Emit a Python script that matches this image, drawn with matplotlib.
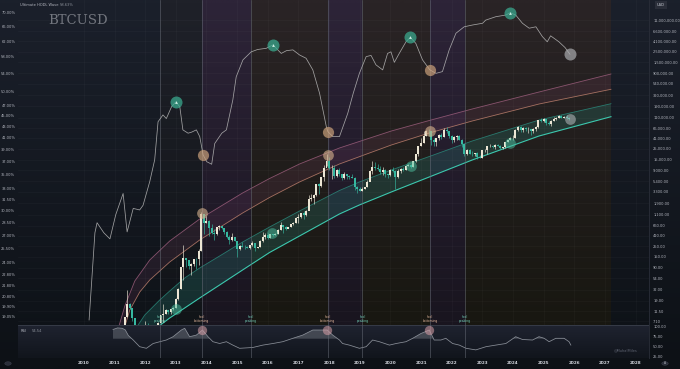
import matplotlib
matplotlib.use("Agg")
import matplotlib.pyplot as plt
import numpy as np
from matplotlib.colors import to_rgba
from matplotlib.ticker import NullLocator
import matplotlib.transforms as mtransforms

# ---------------- data ----------------
# monthly BTCUSD candles, Jan 2011 .. Nov 2025
CANDLE_START = 2011.0
closes = [
    0.52, 0.86, 0.78, 3.5, 8.74, 16.1, 13.35, 8.19, 5.14, 3.25, 2.97, 4.72,
    5.48, 4.86, 4.87, 4.95, 5.17, 6.67, 9.35, 10.15, 12.4, 11.2, 12.57, 13.51,
    20.4, 33.4, 93.0, 139.0, 128.8, 97.5, 106.2, 135.4, 133.0, 198.0, 1130, 755,
    830, 581, 458, 448, 629, 640, 580, 478, 389, 338, 378, 320,
    218, 254, 244, 236, 230, 263, 284, 230, 236, 314, 377, 430,
    368, 437, 416, 448, 531, 673, 624, 575, 609, 698, 742, 963,
    970, 1190, 1080, 1348, 2300, 2480, 2875, 4703, 4338, 6468, 10199, 13860,
    10220, 10330, 6930, 9240, 7490, 6390, 7730, 7030, 6630, 6370, 4020, 3740,
    3460, 3820, 4100, 5320, 8570, 10820, 10080, 9630, 8290, 9200, 7570, 7190,
    9350, 8600, 6440, 8660, 9460, 9140, 11350, 11680, 10780, 13800, 19700, 28990,
    33110, 45240, 58800, 57750, 37330, 35040, 41460, 47100, 43820, 61300, 57000, 46300,
    38480, 43190, 45540, 37710, 31800, 19780, 23300, 20050, 19430, 20490, 17170, 16550,
    23140, 23150, 28480, 29250, 27220, 30480, 29230, 25940, 26970, 34650, 37720, 42280,
    42580, 61130, 71330, 60640, 67490, 62680, 64620, 58970, 63330, 70220, 96410, 93430,
    102430, 84350, 82550, 94210, 104600, 107140, 115760, 108250, 114050, 109500, 102000,
]
highs = [
    0.6, 1.1, 0.95, 3.9, 8.9, 31.9, 16.5, 13.5, 8.5, 5.2, 3.5, 4.8,
    7.2, 6.5, 5.3, 5.3, 5.2, 6.9, 9.7, 16.0, 12.9, 12.4, 12.9, 13.7,
    21.0, 34.5, 95.0, 266, 140, 129, 110, 136, 144, 220, 1242, 1163,
    1020, 870, 710, 550, 630, 680, 660, 595, 500, 415, 458, 380,
    320, 265, 301, 261, 247, 268, 315, 286, 244, 334, 495, 469,
    462, 444, 440, 470, 550, 778, 695, 636, 617, 718, 765, 979,
    1150, 1210, 1290, 1350, 2760, 3000, 2950, 4760, 5000, 6470, 11400, 19700,
    17200, 11800, 11700, 9750, 9980, 7760, 8500, 7770, 7400, 7680, 6590, 4240,
    4100, 4190, 4120, 5620, 9100, 13900, 13200, 12330, 10950, 10370, 9500, 7750,
    9580, 10500, 9190, 9470, 10070, 10400, 11460, 12470, 12070, 14100, 19900, 29300,
    41900, 58400, 61800, 64900, 59500, 41300, 42400, 50500, 52900, 67000, 69000, 59100,
    47900, 45800, 48200, 47400, 40000, 31900, 24700, 25200, 22800, 21000, 21500, 18400,
    23960, 25250, 29200, 30950, 29800, 31400, 31800, 30100, 27500, 35200, 38400, 44700,
    48900, 64000, 73800, 72700, 71900, 72000, 70000, 65100, 66500, 73600, 99600, 108300,
    109300, 102500, 95000, 95800, 111900, 110600, 123200, 124500, 117900, 126200, 110700,
]
lows = [
    0.3, 0.5, 0.7, 0.75, 3.0, 8.7, 12.5, 7.1, 4.8, 2.0, 2.0, 2.8,
    4.6, 4.25, 4.73, 4.8, 4.9, 5.2, 6.5, 7.0, 9.8, 9.8, 10.2, 12.4,
    13.2, 19.9, 33.3, 50, 92, 84, 65, 97, 85, 102, 198, 450,
    740, 400, 440, 340, 420, 545, 567, 440, 360, 276, 325, 312,
    152, 211, 235, 218, 226, 219, 256, 200, 227, 237, 308, 349,
    355, 367, 405, 415, 445, 526, 470, 545, 592, 607, 690, 740,
    750, 940, 890, 1060, 1350, 2120, 1840, 2700, 2970, 4120, 5500, 10900,
    9040, 6000, 6430, 6630, 7050, 5750, 6070, 5880, 6100, 6200, 3550, 3150,
    3350, 3390, 3750, 4070, 5350, 7480, 9100, 9330, 7710, 7300, 6500, 6430,
    6870, 8500, 3800, 6200, 8100, 8900, 9000, 11000, 10000, 10400, 13200, 17600,
    28100, 32300, 45000, 47000, 30000, 28800, 29300, 37300, 39600, 43300, 53300, 42000,
    33000, 34300, 37200, 37700, 26700, 17600, 18800, 19600, 18200, 18200, 15500, 16300,
    16500, 21400, 19600, 26900, 25900, 24800, 28900, 25300, 24900, 26600, 34100, 37600,
    38500, 41900, 59100, 56600, 56500, 58400, 53500, 49000, 52600, 58900, 67500, 90500,
    89200, 78200, 76600, 74400, 93400, 98200, 105300, 107300, 107300, 103500, 98900,
]
first_open = 0.30

# Ultimate HODL Wave (%)
hodl_years = [
    2010.17, 2010.36, 2010.43, 2010.52, 2010.65, 2010.85, 2011.04, 2011.28, 2011.41,
    2011.61, 2011.82, 2011.93, 2012.15, 2012.31, 2012.42, 2012.58, 2012.69, 2012.86,
    2013.00, 2013.13, 2013.23, 2013.40, 2013.52, 2013.67, 2013.78, 2013.89, 2014.01,
    2014.17, 2014.27, 2014.50, 2014.65, 2014.86, 2014.97, 2015.19, 2015.46, 2015.67,
    2015.95, 2016.17, 2016.44, 2016.61, 2016.82, 2017.04, 2017.25, 2017.47, 2017.69,
    2017.91, 2017.96, 2018.12, 2018.34, 2018.61, 2018.79, 2018.99, 2019.21, 2019.37,
    2019.53, 2019.75, 2019.91, 2020.02, 2020.13, 2020.29, 2020.51, 2020.65, 2020.83,
    2021.05, 2021.29, 2021.49, 2021.70, 2021.92, 2022.14, 2022.41, 2022.68, 2023.01,
    2023.11, 2023.44, 2023.77, 2023.91, 2024.09, 2024.31, 2024.53, 2024.75, 2024.96,
    2025.12, 2025.23, 2025.50, 2025.70, 2025.86,
]
hodl_pct = [
    18.8, 27.3, 28.5, 28.0, 27.3, 26.6, 29.5, 32.3, 27.4,
    30.3, 30.1, 30.7, 34.0, 37.3, 43.9, 45.2, 44.5, 46.8,
    47.8, 46.8, 42.4, 41.8, 42.0, 42.4, 41.2, 38.1, 37.0,
    36.6, 40.0, 41.8, 42.4, 48.2, 53.2, 57.2, 59.2, 59.8,
    60.1, 61.0, 58.8, 59.5, 59.7, 58.4, 57.6, 54.8, 49.6,
    43.0, 42.1, 41.2, 41.2, 45.5, 49.6, 54.0, 58.0, 58.3,
    56.0, 54.8, 58.8, 59.2, 56.6, 58.8, 61.8, 63.0, 61.4,
    57.2, 54.8, 54.0, 54.4, 59.7, 64.1, 65.9, 66.4, 66.9,
    67.8, 68.8, 69.3, 70.0, 69.3, 66.9, 65.5, 65.9, 63.2,
    61.8, 63.4, 61.8, 60.3, 58.6,
]
hodl_peak_years = [2013.00, 2016.17, 2020.65, 2023.91]
hodl_peak_pct = [47.8, 61.0, 63.0, 70.0]
hodl_trough_years = [2013.89, 2017.96, 2021.29]
hodl_trough_pct = [38.1, 42.1, 54.8]
hodl_last_year = 2025.86
hodl_last_pct = 58.6

# price markers
price_top_years = [2013.84, 2017.96, 2021.29]
price_top_vals = [1199, 18700, 58200]
price_low_years = [2013.00, 2016.15, 2020.67, 2023.92]
price_low_vals = [12.5, 459, 11250, 33000]
price_last_year = 2025.86
price_last_val = 101000

# log regression bands
top_years = [2011.107, 2011.336, 2011.661, 2012.150, 2012.801, 2013.779, 2015.179, 2016.059,
             2017.036, 2018.339, 2020.033, 2021.270, 2022.671, 2024.853, 2027.199]
top_vals = [4.71, 14.68, 47.9, 129.6, 318.4, 902, 3094, 6145,
            12210, 26050, 58260, 95750, 165100, 369300, 866000]
salmon_years = [2011.303, 2011.498, 2011.824, 2012.150, 2012.801, 2013.779, 2015.179, 2016.059,
                2017.036, 2018.339, 2020.033, 2021.270, 2022.671, 2024.853, 2027.199]
salmon_vals = [4.71, 12.14, 28.5, 50.3, 117.9, 334, 1199, 2500,
               5209, 12210, 30020, 52990, 93500, 209100, 419600]
mid_years = [2011.661, 2011.987, 2012.476, 2012.801, 2013.290, 2013.779, 2014.430, 2015.179,
             2016.059, 2017.036, 2018.339, 2018.990, 2020.033, 2021.270, 2022.671, 2024.853, 2027.199]
mid_vals = [4.71, 9.58, 19.5, 29.85, 55.3, 88.7, 156.6, 303.7,
            618, 1318, 3483, 5209, 9190, 17400, 36290, 98030, 212100]
low_years = [2012.313, 2012.476, 2012.801, 2013.290, 2013.779, 2014.430, 2015.179, 2016.059,
             2017.036, 2018.339, 2018.990, 2020.033, 2021.270, 2022.671, 2024.853, 2027.199]
low_vals = [4.71, 5.83, 8.31, 13.35, 21.43, 39.66, 80.7, 184.8,
            403.6, 1144, 1752, 3245, 6600, 14750, 45980, 114600]

# cycle markers
cycle_years = [2012.48, 2013.84, 2015.44, 2017.95, 2019.09, 2021.30, 2022.44]
cycle_labels = ["hodl\npeaking", "hodl\nbottoming", "hodl\npeaking", "hodl\nbottoming",
                "hodl\npeaking", "hodl\nbottoming", "hodl\npeaking"]
shade_edges = [2012.48, 2013.84, 2015.44, 2017.95, 2019.09, 2021.30, 2022.44, 2027.2]
shade_kinds = ["dark", "purple", "brown", "purple", "brown", "purple", "brown"]

# RSI
rsi_years = [
    2010.95, 2011.10, 2011.25, 2011.35, 2011.45, 2011.61, 2011.82, 2012.04, 2012.26,
    2012.48, 2012.69, 2012.91, 2013.18, 2013.29, 2013.45, 2013.67, 2013.87, 2014.05,
    2014.21, 2014.43, 2014.65, 2014.86, 2015.08, 2015.51, 2015.84, 2016.17, 2016.49,
    2016.82, 2017.14, 2017.47, 2017.69, 2017.94, 2018.12, 2018.34, 2018.44, 2018.66,
    2018.99, 2019.21, 2019.42, 2019.64, 2019.97, 2020.19, 2020.51, 2020.73, 2021.00,
    2021.27, 2021.43, 2021.65, 2021.81, 2022.03, 2022.25, 2022.47, 2022.79, 2023.12,
    2023.44, 2023.77, 2024.09, 2024.31, 2024.64, 2024.85, 2025.02, 2025.18, 2025.40,
    2025.67, 2025.83, 2025.89,
]
rsi_vals = [
    93, 97, 96, 92, 78, 66.7, 50, 46, 58,
    62.5, 66.7, 75, 91.7, 96, 75, 79, 91.7, 75,
    62.5, 58, 62.5, 54, 46, 48, 54, 58, 62.5,
    71, 79, 91.7, 91.7, 91.7, 79, 66.7, 58, 54,
    46, 50, 66.7, 62.5, 54, 58, 62.5, 71, 83,
    91.7, 66.7, 66.7, 71, 58, 54, 46, 42, 50,
    54, 58, 75, 68, 66.7, 75, 71, 62.5, 71,
    71, 62.5, 54,
]
rsi_mark_years = [2013.87, 2017.94, 2021.27]
rsi_mark_vals = [91.7, 91.7, 91.7]

price_ticks = [11e6, 6.6e6, 4.1e6, 2.5e6, 1.5e6, 900e3, 540e3, 320e3, 190e3, 110e3,
               66e3, 41e3, 25e3, 15e3, 9000, 5400, 3300, 1900, 1100, 660, 410, 250,
               150, 90, 54, 32, 19, 11.5, 7.1]
hodl_ticks = [70, 66, 62, 58, 54, 50, 47, 45, 43, 41, 39, 37, 35, 33, 31.5, 30, 28.5,
              27, 25.5, 24, 22.8, 21.8, 20.8, 19.9, 19.05]
rsi_ticks = [25, 50, 75, 100]
year_ticks = list(range(2010, 2029))

# ---------------- layout ----------------
W, H = 680, 369
XMIN, XMAX = 2007.85, 2028.44


def rect(x0, y0, x1, y1):
    return [x0 / W, 1 - y1 / H, (x1 - x0) / W, (y1 - y0) / H]


def vgrad(top, bottom, n=64):
    a = np.array(to_rgba(top))
    b = np.array(to_rgba(bottom))
    t = np.linspace(0, 1, n)[:, None]
    return (a * (1 - t) + b * t)[:, None, :]


fig = plt.figure(figsize=(W / 100, H / 100), dpi=100)
fig.patch.set_facecolor("#131722")

bg = fig.add_axes([0, 0, 1, 1])
bg.set_axis_off()
bg.imshow(vgrad("#1b202b", "#0d1116"), extent=(0, 1, 0, 1), aspect="auto",
          interpolation="bilinear")
bg.set_xlim(0, 1)
bg.set_ylim(0, 1)

# cycle shading
sh = fig.add_axes(rect(18, 0, 649, 325))
sh.set_axis_off()
shade_colors = {
    "dark": ("#1f2129", "#111418"),
    "purple": ("#2d2438", "#19151f"),
    "brown": ("#2a2426", "#181711"),
}
for x0, x1, kind in zip(shade_edges[:-1], shade_edges[1:], shade_kinds):
    top, bot = shade_colors[kind]
    sh.imshow(vgrad(top, bot), extent=(x0, x1, 0, 1), aspect="auto",
              interpolation="bilinear")
sh.set_xlim(XMIN, XMAX)
sh.set_ylim(0, 1)

# price axis
ax = fig.add_axes(rect(18, 0, 649, 325))
ax.patch.set_visible(False)
ax.set_yscale("log")
ax.set_xlim(XMIN, XMAX)
ax.set_ylim(5.96, 2.88e7)
for s in ax.spines.values():
    s.set_visible(False)
ax.set_xticks(year_ticks)
ax.tick_params(axis="x", length=0, labelbottom=False)
ax.grid(True, color="#ffffff", alpha=0.035, lw=0.5)

# bands: filled ribbons then their edge lines
ax.fill(top_years + salmon_years[::-1], top_vals + salmon_vals[::-1],
        color="#a2507e", alpha=0.13, lw=0)
ax.fill(mid_years + low_years[::-1], mid_vals + low_vals[::-1],
        color="#2a9d8f", alpha=0.2, lw=0)
ax.plot(top_years, top_vals, color="#a0607f", lw=0.6, alpha=0.8)
ax.plot(salmon_years, salmon_vals, color="#c48470", lw=0.6, alpha=0.8)
ax.plot(mid_years, mid_vals, color="#2b8c7e", lw=0.6, alpha=0.8)
ax.plot(low_years, low_vals, color="#3cc8ae", lw=0.8)

# vertical cycle lines
btrans = mtransforms.blended_transform_factory(ax.transData, ax.transAxes)
for yr, lab in zip(cycle_years, cycle_labels):
    ax.axvline(yr, color="#6a6f7a", lw=0.5, alpha=0.7)
    col = "#e0b59a" if "bottoming" in lab else "#72d0b8"
    ax.text(yr, 0.018, lab, transform=btrans, ha="center", va="center", fontsize=2.2,
            color=col, linespacing=0.9, zorder=6)

# candles
n = len(closes)
tx = CANDLE_START + np.arange(n) / 12.0
opens = [first_open] + closes[:-1]
for t, o, h, l, c in zip(tx, opens, highs, lows, closes):
    up = c >= o
    col = "#ece6d4" if up else "#36b8a0"
    ax.vlines(t, l, h, color=col, lw=0.45, zorder=4)
    lo, hi = min(o, c), max(o, c)
    ax.bar(t, hi - lo, bottom=lo, width=0.065, color=col, lw=0, zorder=4)

ax.scatter(price_top_years, price_top_vals, s=60, color="#d9b48f", alpha=0.6, lw=0, zorder=5)
ax.scatter(price_low_years, price_low_vals, s=60, color="#4cc0a0", alpha=0.5, lw=0, zorder=5)
ax.scatter([price_last_year], [price_last_val], s=60, color="#b8bcc0", alpha=0.55, lw=0, zorder=5)

# HODL wave axis
axh = ax.twinx()
axh.patch.set_visible(False)
axh.set_yscale("log")
axh.set_ylim(18.4, 73.9)
axh.set_xlim(XMIN, XMAX)
for s in axh.spines.values():
    s.set_visible(False)
axh.yaxis.tick_left()
axh.set_yticks(hodl_ticks)
axh.set_yticklabels([f"{v:.2f}%" for v in hodl_ticks])
axh.yaxis.set_minor_locator(NullLocator())
axh.tick_params(axis="y", length=0, pad=2, labelsize=2.6, labelcolor="#b2b5be")
axh.plot(hodl_years, hodl_pct, color="#b9b9b9", lw=0.55, alpha=0.85)
axh.scatter(hodl_peak_years, hodl_peak_pct, s=75, color="#3aa88e", alpha=0.75, lw=0, zorder=5)
axh.scatter(hodl_peak_years, hodl_peak_pct, s=4, marker="^", color="#cfeee4", lw=0, zorder=6)
axh.scatter(hodl_trough_years, hodl_trough_pct, s=65, color="#c9a07a", alpha=0.7, lw=0, zorder=5)
axh.scatter([hodl_last_year], [hodl_last_pct], s=75, color="#a9abae", alpha=0.7, lw=0, zorder=5)

# price ticks go on the right (twinx moved them)
ax.yaxis.tick_right()
ax.set_yticks(price_ticks)
ax.set_yticklabels([f"{v:,.2f}" for v in price_ticks])
ax.yaxis.set_minor_locator(NullLocator())
ax.tick_params(axis="y", length=0, pad=3, labelsize=2.6, labelcolor="#b2b5be")

# RSI panel
rsi = fig.add_axes(rect(18, 325, 649, 358))
rsi.imshow(vgrad("#1f2330", "#11151c"), extent=(XMIN, XMAX, 21.75, 104.25),
           aspect="auto", interpolation="bilinear", zorder=0)
rsi.set_xlim(XMIN, XMAX)
rsi.set_ylim(21.75, 104.25)
for s in rsi.spines.values():
    s.set_visible(False)
rsi.axhline(104.2, color="#3a3f4b", lw=0.6)
rv = np.array(rsi_vals)
rsi.fill_between(rsi_years, 70, rv, where=rv > 70, interpolate=True, color="#8e949c",
                 alpha=0.35, lw=0)
rsi.plot(rsi_years, rsi_vals, color="#8a8f98", lw=0.55)
rsi.scatter(rsi_mark_years, rsi_mark_vals, s=45, color="#d9a0a8", alpha=0.55, lw=0, zorder=5)
for yr in cycle_years:
    rsi.axvline(yr, color="#6a6f7a", lw=0.5, alpha=0.7)
rsi.yaxis.tick_right()
rsi.set_yticks(rsi_ticks)
rsi.set_yticklabels([f"{v:.2f}" for v in rsi_ticks])
rsi.tick_params(axis="y", length=0, pad=3, labelsize=2.6, labelcolor="#b2b5be")
rsi.set_xticks(year_ticks)
rsi.set_xticklabels([str(y) for y in year_ticks])
rsi.tick_params(axis="x", length=0, pad=2.2, labelsize=3.0, labelcolor="#d1d4dc")
for lab in rsi.get_xticklabels():
    lab.set_fontweight("bold")
rsi.text(0.004, 0.82, "RSI", transform=rsi.transAxes, fontsize=2.6, color="#b2b5be", va="center")
rsi.text(0.022, 0.82, "54.54", transform=rsi.transAxes, fontsize=2.6, color="#8a8f98", va="center")

# texts
fig.text(20 / W, 1 - 4.5 / H, "Ultimate HODL Wave", fontsize=2.6, color="#b2b5be", va="center")
fig.text(60 / W, 1 - 4.5 / H, "58.63%", fontsize=2.6, color="#8a8f98", va="center")
fig.text(78 / W, 1 - 20 / H, "BTCUSD", fontsize=9.5, family="DejaVu Serif", color="#7d8088",
         ha="center", va="center", alpha=0.9)
fig.text(626 / W, 1 - 350.5 / H, "@MuhalMiles", fontsize=2.6, color="#5d6270", ha="center", va="center")
fig.text(661 / W, 1 - 5 / H, "USD", fontsize=2.6, color="#d1d4dc", ha="center", va="center",
         bbox=dict(boxstyle="square,pad=0.5", fc="#2a2e39", ec="none"))
fig.add_artist(plt.Line2D([649 / W, 649 / W], [11 / H, 1], color="#2a2e39", lw=0.6))

# small toolbar buttons in the bottom corners
for cx in (8, 665):
    fig.add_artist(plt.Circle((cx / W, 1 - 363.5 / H), 3.2 / W, transform=fig.transFigure,
                              fc="#2a2e39", ec="#3a3f4b", lw=0.4))
fig.text(665 / W, 1 - 363.5 / H, "A", fontsize=2.2, color="#b2b5be", ha="center", va="center")

fig.savefig("out.png", dpi=100, facecolor=fig.get_facecolor())
